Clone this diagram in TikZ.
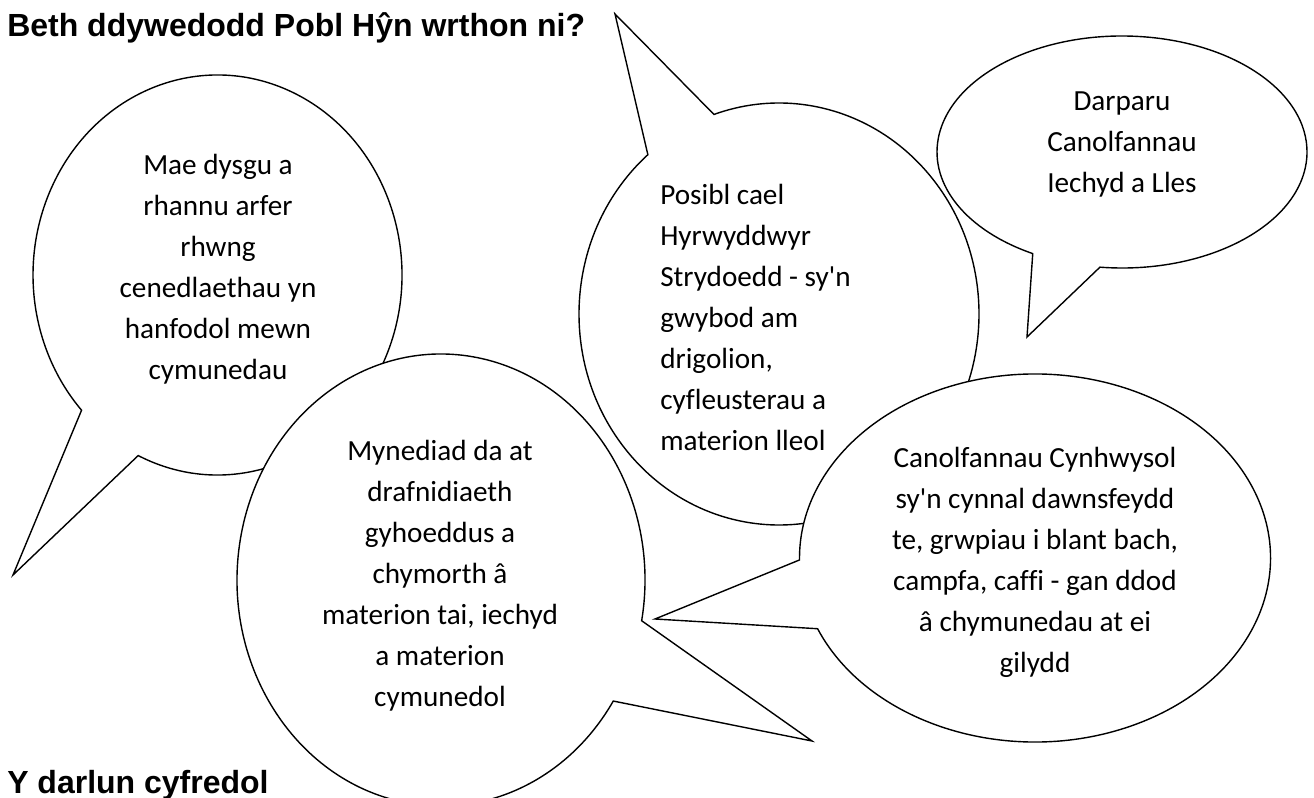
\documentclass[tikz,border=0pt]{standalone}
\usepackage{fontspec}
\setmainfont{Carlito}[Ligatures=NoCommon]
\newfontfamily\headfont{Liberation Sans}
\newcommand\apos{\textquotesingle}
% #1 cx, #2 cy, #3 rx, #4 ry, #5 tip x, #6 tip y  (pixel units, y negated)
\newcommand\callbubble[6]{%
  \pgfmathsetmacro\cbt{atan2((#6-(#2))/(#4),(#5-(#1))/(#3))}%
  \pgfmathsetmacro\cbs{\cbt+11}%
  \pgfmathsetmacro\cbe{\cbt+349}%
  \pgfmathsetmacro\cbrx{#3*0.75}%
  \pgfmathsetmacro\cbry{#4*0.75}%
  \draw[bubble] (#5,#6) -- ({#1+#3*cos(\cbs)},{#2+#4*sin(\cbs)})
    arc[start angle=\cbs, end angle=\cbe, x radius=\cbrx pt, y radius=\cbry pt] -- cycle;%
}
\tikzset{
  bubble/.style={draw=black, fill=white, line width=1.05pt, line join=miter},
  btext/.style={font=\fontsize{21.9}{30.75}\selectfont, align=center, inner sep=0pt},
  head/.style={font=\headfont\bfseries\fontsize{24}{28}\selectfont, inner sep=0pt},
}
\begin{document}
\begin{tikzpicture}[x=0.75pt, y=0.75pt]
\useasboundingbox (0,0) rectangle (1314,-798);
\fill[white] (0,0) rectangle (1314,-798);

% Mae dysgu
\callbubble{217.5}{-275}{184.5}{200}{13}{-575}
\node[btext] (t1) at (218,-269) {Mae dysgu a\\rhannu arfer\\rhwng\\cenedlaethau yn\\hanfodol mewn\\cymunedau};

% Posibl
\callbubble{779}{-314}{200}{211}{615}{-14}
\node[btext, align=left, anchor=west] (t2) at (660,-317) {Posibl cael\\Hyrwyddwyr\\Strydoedd - sy\apos n\\gwybod am\\drigolion,\\cyfleusterau a\\materion lleol};

% Darparu
\callbubble{1122}{-152}{185}{116}{1027}{-337}
\node[btext] (t3) at (1122,-144) {Darparu\\Canolfannau\\Iechyd a Lles};

% Mynediad
\callbubble{441}{-580}{204}{226}{812}{-741}
\node[btext] (t4) at (440,-576) {Mynediad da at\\drafnidiaeth\\gyhoeddus a\\chymorth â\\materion tai, iechyd\\a materion\\cymunedol};

% Canolfannau
\callbubble{1035}{-558}{235.5}{184}{655}{-619}
\node[btext] (t5) at (1035,-562) {Canolfannau Cynhwysol\\sy\apos n cynnal dawnsfeydd\\te, grwpiau i blant bach,\\campfa, caffi - gan ddod\\â chymunedau at ei\\gilydd};

\node[head, anchor=base west] (h1) at (7,-37) {Beth ddywedodd Pobl Hŷn wrthon ni?};
\node[head, anchor=base west] (h2) at (7,-793) {Y darlun cyfredol};
\end{tikzpicture}
\end{document}
